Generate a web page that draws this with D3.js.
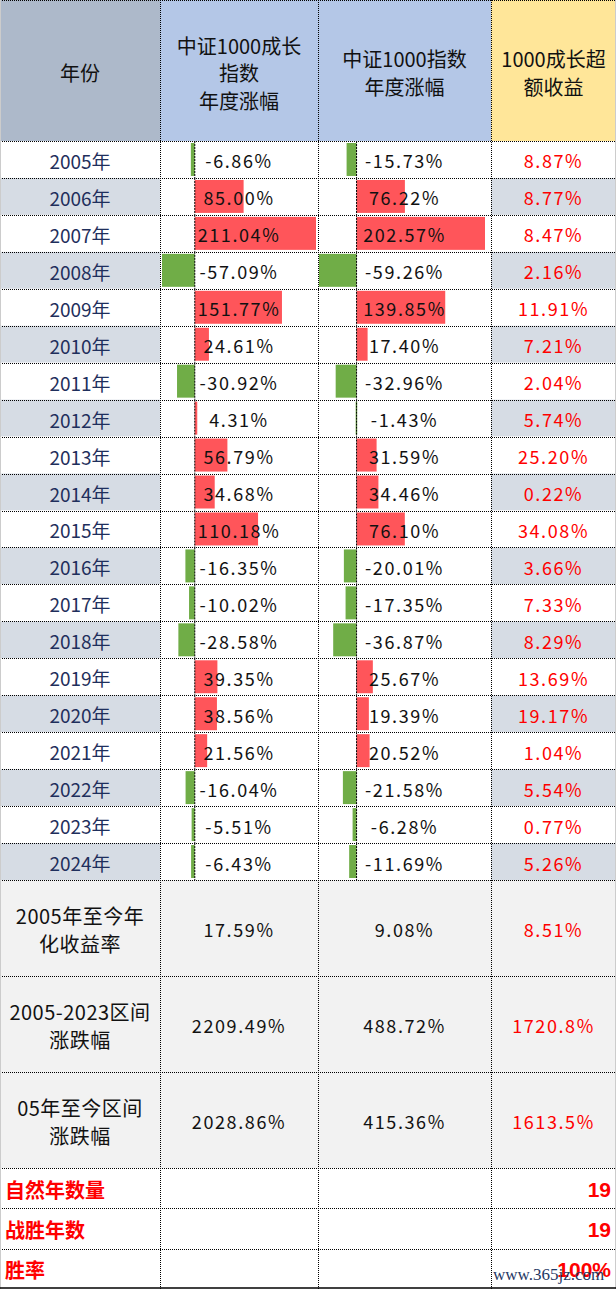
<!DOCTYPE html>
<html>
<head>
<meta charset="utf-8">
<script src="https://cdn.jsdelivr.net/npm/d3@7"></script>
<style>
  body { margin: 0; background: #fff; }
  text { font-family: "Noto Sans CJK SC", "Noto Sans", sans-serif; }
</style>
</head>
<body>
<div id="chart"></div>
<script>
var svgWidth = 616;
var svgHeight = 1289;

var years = ["2005年","2006年","2007年","2008年","2009年","2010年","2011年","2012年","2013年","2014年",
  "2015年","2016年","2017年","2018年","2019年","2020年","2021年","2022年","2023年","2024年"];
var growth = [-6.86, 85.00, 211.04, -57.09, 151.77, 24.61, -30.92, 4.31, 56.79, 34.68,
  110.18, -16.35, -10.02, -28.58, 39.35, 38.56, 21.56, -16.04, -5.51, -6.43];
var index1000 = [-15.73, 76.22, 202.57, -59.26, 139.85, 17.40, -32.96, -1.43, 31.59, 34.46,
  76.10, -20.01, -17.35, -36.87, 25.67, 19.39, 20.52, -21.58, -6.28, -11.69];
var excess = [8.87, 8.77, 8.47, 2.16, 11.91, 7.21, 2.04, 5.74, 25.20, 0.22,
  34.08, 3.66, 7.33, 8.29, 13.69, 19.17, 1.04, 5.54, 0.77, 5.26];

var summaryLabels = [["2005年至今年", "化收益率"], ["2005-2023区间", "涨跌幅"], ["05年至今区间", "涨跌幅"]];
var summaryGrowth = ["17.59%", "2209.49%", "2028.86%"];
var summaryIndex = ["9.08%", "488.72%", "415.36%"];
var summaryExcess = ["8.51%", "1720.8%", "1613.5%"];

var statLabels = ["自然年数量", "战胜年数", "胜率"];
var statValues = ["19", "19", "100%"];

var headers = [["年份"], ["中证1000成长", "指数", "年度涨幅"], ["中证1000指数", "年度涨幅"], ["1000成长超", "额收益"]];

// layout
var colX = [0, 160, 318, 491, 616];
var headerH = 141;
var yearBottom = 880;
var summaryH = 96;
var statH = 40.3;
var headerFill = ["#ADB9CA", "#B4C7E7", "#B4C7E7", "#FFE699"];

var svg = d3.select("#chart").append("svg")
  .attr("width", svgWidth)
  .attr("height", svgHeight);

var yBand = d3.scaleBand().domain(years).range([headerH, yearBottom]);
var xGrowth = d3.scaleLinear().domain(d3.extent(growth)).range([162, 316]);
var xIndex = d3.scaleLinear().domain(d3.extent(index1000)).range([319, 485]);

function fmt(v) { return v.toFixed(2) + "%"; }
function cx(i) { return (colX[i] + colX[i + 1]) / 2; }

// header
headers.forEach(function(lines, i) {
  svg.append("rect")
    .attr("x", colX[i]).attr("y", 0)
    .attr("width", colX[i + 1] - colX[i]).attr("height", headerH)
    .attr("fill", headerFill[i]);
  var lh = 27.5;
  var top = headerH / 2 + 2 - (lines.length - 1) * lh / 2;
  lines.forEach(function(l, j) {
    svg.append("text")
      .attr("x", cx(i)).attr("y", top + j * lh)
      .attr("text-anchor", "middle").attr("dominant-baseline", "central")
      .style("font-size", "20px").attr("fill", "#111")
      .text(l);
  });
});

// year rows
var rows = svg.selectAll("g.row")
  .data(years)
  .enter().append("g")
  .attr("class", "row")
  .attr("transform", function(d) { return "translate(0," + yBand(d) + ")"; });

var bh = yBand.bandwidth();

rows.each(function(d, i) {
  var g = d3.select(this);
  var shade = i % 2 === 1 ? "#D6DCE4" : "#fff";
  g.append("rect").attr("x", 0).attr("width", colX[1]).attr("height", bh).attr("fill", shade);
  g.append("rect").attr("x", colX[3]).attr("width", colX[4] - colX[3]).attr("height", bh).attr("fill", shade);

  // data bars
  [[xGrowth, growth[i]], [xIndex, index1000[i]]].forEach(function(p) {
    var sc = p[0], v = p[1];
    var x0 = sc(0), x1 = sc(v);
    g.append("rect")
      .attr("x", Math.min(x0, x1)).attr("y", 2)
      .attr("width", Math.max(1.5, Math.abs(x1 - x0))).attr("height", bh - 4)
      .attr("fill", v >= 0 ? "#FF555A" : "#70AD47");
    g.append("line")
      .attr("x1", x0).attr("x2", x0).attr("y1", 0).attr("y2", bh)
      .attr("stroke", "#000").attr("stroke-width", 1).attr("stroke-dasharray", "2,1");
  });

  g.append("text").attr("x", cx(0)).attr("y", bh / 2 + 1)
    .attr("text-anchor", "middle").attr("dominant-baseline", "central")
    .style("font-size", "19px").attr("fill", "#1F2F5C").text(d);
  g.append("text").attr("x", cx(1)).attr("y", bh / 2 + 1)
    .attr("text-anchor", "middle").attr("dominant-baseline", "central")
    .style("font-size", "18px").style("letter-spacing", "1.6px").attr("fill", "#111").text(fmt(growth[i]));
  g.append("text").attr("x", cx(2)).attr("y", bh / 2 + 1)
    .attr("text-anchor", "middle").attr("dominant-baseline", "central")
    .style("font-size", "18px").style("letter-spacing", "1.6px").attr("fill", "#111").text(fmt(index1000[i]));
  g.append("text").attr("x", cx(3)).attr("y", bh / 2 + 1)
    .attr("text-anchor", "middle").attr("dominant-baseline", "central")
    .style("font-size", "18px").style("letter-spacing", "1.6px").attr("fill", "#FF0000").text(fmt(excess[i]));
});

// summary rows
summaryLabels.forEach(function(lines, i) {
  var y0 = yearBottom + i * summaryH;
  svg.append("rect").attr("x", 0).attr("y", y0).attr("width", svgWidth).attr("height", summaryH).attr("fill", "#F2F2F2");
  lines.forEach(function(l, j) {
    svg.append("text")
      .attr("x", cx(0)).attr("y", y0 + summaryH / 2 - 13 + j * 28)
      .attr("text-anchor", "middle").attr("dominant-baseline", "central")
      .style("font-size", "20px").style("letter-spacing", "0.5px").attr("fill", "#111").text(l);
  });
  [[summaryGrowth[i], "#111"], [summaryIndex[i], "#111"], [summaryExcess[i], "#FF0000"]].forEach(function(p, k) {
    svg.append("text")
      .attr("x", cx(k + 1)).attr("y", y0 + summaryH / 2 + 1)
      .attr("text-anchor", "middle").attr("dominant-baseline", "central")
      .style("font-size", "18px").style("letter-spacing", "1.6px").attr("fill", p[1]).text(p[0]);
  });
});

// stat rows
var statTop = yearBottom + 3 * summaryH;
statLabels.forEach(function(l, i) {
  var y0 = statTop + i * statH;
  svg.append("text").attr("x", 5).attr("y", y0 + statH / 2 + 1)
    .attr("dominant-baseline", "central")
    .style("font-size", "20px").style("font-weight", "bold").attr("fill", "#FF0000").text(l);
  svg.append("text").attr("x", 611).attr("y", y0 + statH / 2 + 1)
    .attr("text-anchor", "end").attr("dominant-baseline", "central")
    .style("font-family", "Liberation Sans, Arial, sans-serif")
    .style("font-size", "21px").style("font-weight", "bold").attr("fill", "#FF0000").text(statValues[i]);
});

// grid lines
var hLines = [0, headerH].concat(years.map(function(d) { return yBand(d) + bh; }));
for (var k = 1; k <= 3; k++) hLines.push(yearBottom + k * summaryH);
for (var k = 1; k <= 2; k++) hLines.push(statTop + k * statH);
svg.selectAll("line.h").data(hLines).enter().append("line")
  .attr("x1", 0).attr("x2", svgWidth)
  .attr("y1", function(d) { return Math.round(d) + 0.5; }).attr("y2", function(d) { return Math.round(d) + 0.5; })
  .attr("stroke", "#000").attr("stroke-width", 1).attr("stroke-dasharray", "1,1");
svg.selectAll("line.v").data(colX.slice(1, 4)).enter().append("line")
  .attr("x1", function(d) { return d + 0.5; }).attr("x2", function(d) { return d + 0.5; })
  .attr("y1", 0).attr("y2", svgHeight)
  .attr("stroke", "#000").attr("stroke-width", 1).attr("stroke-dasharray", "1,1");
svg.append("line").attr("x1", 0.5).attr("x2", 0.5).attr("y1", 0).attr("y2", svgHeight)
  .attr("stroke", "#ccc");
svg.append("line").attr("x1", 615.5).attr("x2", 615.5).attr("y1", 0).attr("y2", svgHeight)
  .attr("stroke", "#ccc");
svg.append("line").attr("x1", 0).attr("x2", svgWidth).attr("y1", svgHeight - 1).attr("y2", svgHeight - 1)
  .attr("stroke", "#000").attr("stroke-width", 1.5);

// watermark
svg.append("text").attr("x", 493).attr("y", 1280)
  .style("font-family", "Liberation Serif, DejaVu Serif, serif")
  .style("font-size", "17px").attr("fill", "#1F3864").text("www.365jz.com");
</script>
</body>
</html>
